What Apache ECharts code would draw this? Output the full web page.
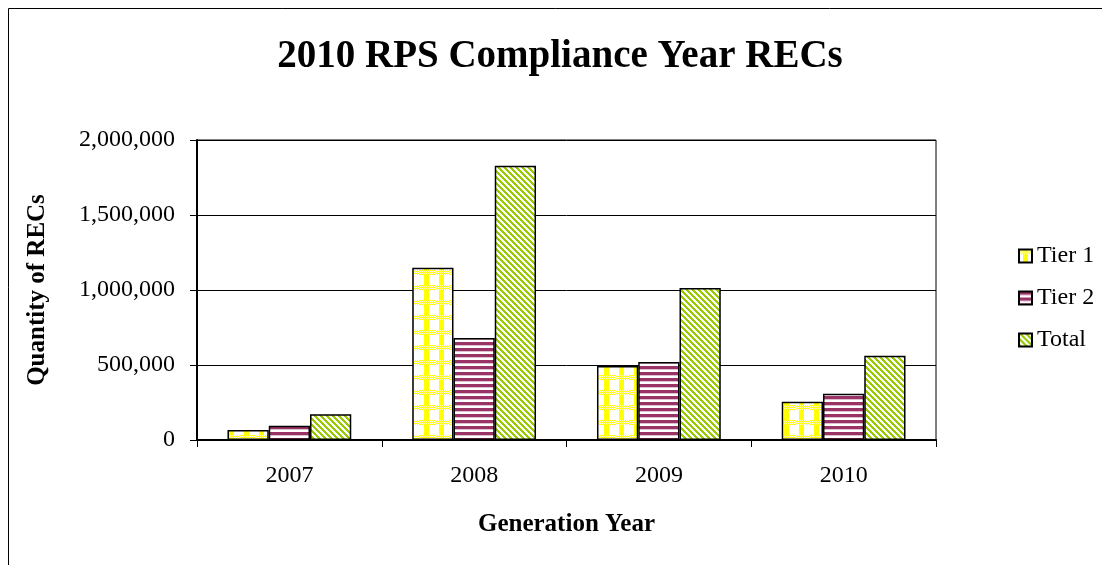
<!DOCTYPE html>
<html>
<head>
<meta charset="utf-8">
<script src="https://cdn.jsdelivr.net/npm/echarts@6/dist/echarts.min.js"></script>
<style>
html,body{margin:0;padding:0;background:#fff;}
#chart{width:1102px;height:565px;}
</style>
</head>
<body>
<div id="chart"></div>
<script>
const categories = ['2007', '2008', '2009', '2010'];
const tier1 = [67000, 1149000, 493000, 255000];
const tier2 = [95000, 680000, 520000, 309000];
const total = [172000, 1829000, 1013000, 562000];
const seriesNames = ['Tier 1', 'Tier 2', 'Total'];
const yTicks = [0, 500000, 1000000, 1500000, 2000000];

function makePattern(w, h, fn) {
  const c = document.createElement('canvas');
  c.width = w; c.height = h;
  const ctx = c.getContext('2d');
  const img = ctx.createImageData(w, h);
  for (let y = 0; y < h; y++) {
    for (let x = 0; x < w; x++) {
      const col = fn(x, y);
      const i = (y * w + x) * 4;
      img.data[i] = col[0]; img.data[i+1] = col[1]; img.data[i+2] = col[2]; img.data[i+3] = 255;
    }
  }
  ctx.putImageData(img, 0, 0);
  return c;
}
const WHITE = [255,255,255], YEL = [255,255,0], PUR = [153,51,102], PURL = [224,192,208], GRN = [153,204,0];
const pat1 = makePattern(15, 15, (x, y) => {
  const vb = x >= 4 && x < 9;
  const hb = y >= 0 && y < 5;
  if (vb && !hb) return YEL;
  if (hb && !vb) return ((x + y) % 2 === 0) ? YEL : WHITE;
  if (vb && hb) return ((x + y) % 2 === 0) ? YEL : [255,255,160];
  return WHITE;
});
const pat2 = makePattern(6, 6, (x, y) => {
  if (y < 3) return PUR;
  if (y === 3) return PURL;
  return WHITE;
});
const pat3 = makePattern(6, 6, (x, y) => {
  const d = ((x - y) % 6 + 6) % 6;
  return d < 3 ? GRN : WHITE;
});
const patterns = [pat1, pat2, pat3];
const dataSets = [tier1, tier2, total];

const chart = echarts.init(document.getElementById('chart'), null, {renderer: 'canvas'});
const serif = "'Liberation Serif', 'Times New Roman', serif";

const option = {
  animation: false,
  backgroundColor: '#fff',
  graphic: [
    {type: 'rect', shape: {x: 8.5, y: 8.5, width: 1100, height: 560}, style: {fill: 'none', stroke: '#000', lineWidth: 1}, silent: true},
    {type: 'text', x: 560, y: 37, style: {text: '2010 RPS Compliance Year RECs', font: "bold 39px " + serif, fill: '#000', textAlign: 'center', textVerticalAlign: 'top'}}
  ],
  grid: {left: 197, right: 166, top: 140, bottom: 125, show: true, borderColor: '#000', borderWidth: 1, backgroundColor: 'transparent'},
  legend: {
    orient: 'vertical', left: 1013, top: 239, itemWidth: 13, itemHeight: 13, itemGap: 18, icon: 'rect',
    textStyle: {fontFamily: serif, fontSize: 24, color: '#000'},
    data: seriesNames
  },
  xAxis: {
    type: 'category', data: categories,
    name: 'Generation Year', nameLocation: 'middle', nameGap: 72,
    nameTextStyle: {fontFamily: serif, fontSize: 25, fontWeight: 'bold', color: '#000'},
    axisLine: {lineStyle: {color: '#000', width: 2}},
    axisTick: {show: true, length: 7, lineStyle: {color: '#000', width: 1}, alignWithLabel: false},
    axisLabel: {fontFamily: serif, fontSize: 24, color: '#000', margin: 24}
  },
  yAxis: {
    type: 'value', min: 0, max: 2000000, interval: 500000,
    name: 'Quantity of RECs', nameLocation: 'middle', nameGap: 147, nameRotate: 90,
    nameTextStyle: {fontFamily: serif, fontSize: 25, fontWeight: 'bold', color: '#000'},
    axisLine: {show: true, lineStyle: {color: '#000', width: 2}},
    axisTick: {show: true, length: 7, lineStyle: {color: '#000'}},
    axisLabel: {fontFamily: serif, fontSize: 24, color: '#000', margin: 22,
      formatter: v => yTicks.includes(v) ? v.toLocaleString('en-US') : ''},
    splitLine: {show: true, lineStyle: {color: '#000', width: 1}}
  },
  series: seriesNames.map((name, i) => ({
    name, type: 'bar', data: dataSets[i],
    barGap: '0%', barCategoryGap: '33%',
    itemStyle: {color: {image: patterns[i], repeat: 'repeat'}, borderColor: '#000', borderWidth: 1.5}
  }))
};
chart.setOption(option);
</script>
</body>
</html>
